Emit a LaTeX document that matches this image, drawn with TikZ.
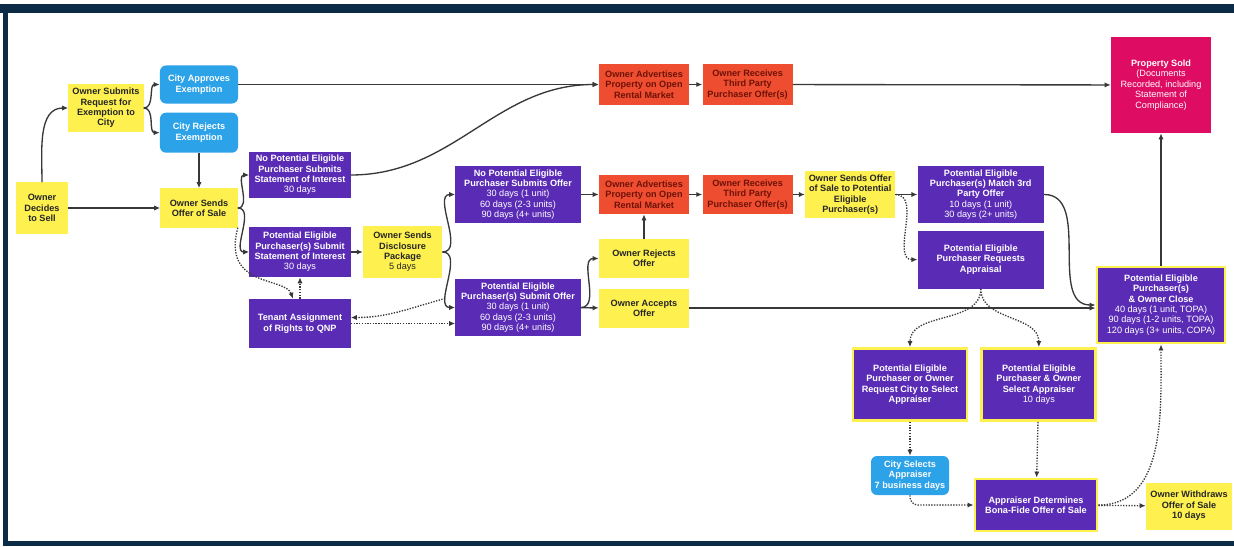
\documentclass[tikz,border=0pt]{standalone}
\usepackage{fontspec}
\setmainfont{Liberation Sans}
\usepackage{xcolor}
\usepackage{tikz}
\usetikzlibrary{arrows.meta, positioning}

\definecolor{frameblue}{HTML}{0B2B47}
\definecolor{ownyellow}{HTML}{FDF04F}
\definecolor{cityblue}{HTML}{2CA2E8}
\definecolor{pepurple}{HTML}{5A2CB6}
\definecolor{advred}{HTML}{EF4D2F}
\definecolor{soldpink}{HTML}{DE0C62}
\definecolor{wire}{HTML}{383838}
\definecolor{ytext}{HTML}{262626}
\definecolor{rtext}{HTML}{6E1208}

\begin{document}
\begin{tikzpicture}[
  x=0.025cm, y=-0.025cm,
  block/.style={minimum width=2.25cm, minimum height=1cm, align=center, inner sep=1pt,
                font=\bfseries\fontsize{6.5}{7.4}\selectfont},
  yblock/.style={block, fill=ownyellow, text=ytext},
  bblock/.style={block, fill=cityblue, text=white, rounded corners=0.15cm},
  pblock/.style={block, fill=pepurple, text=white},
  rblock/.style={block, fill=advred, text=rtext},
  mblock/.style={block, fill=soldpink, text=white},
  hblock/.style={pblock, draw=ownyellow, line width=2pt},
  arr/.style={-{Latex[length=1.5mm, width=1.3mm]}, line width=0.95pt, draw=wire},
  darr/.style={arr, densely dotted}
]
  % page and frame
  \useasboundingbox (0,0) rectangle (1234,546);
  \fill[white] (0,0) rectangle (1234,546);
  \fill[frameblue] (0,4) rectangle (1234,13);
  \fill[frameblue] (3,4) rectangle (8,546);
  \fill[frameblue] (3,541) rectangle (1234,546);

  % Start and exemption
  \node[yblock, minimum width=1.275cm, minimum height=1.275cm] (decide) at (42,208) {Owner\\Decides\\to Sell};
  \node[yblock, minimum width=1.875cm, minimum height=1.175cm] (exempt) at (106,108) {Owner Submits\\Request for\\Exemption to\\City};
  \node[bblock, minimum width=1.95cm, minimum height=0.95cm] (approve) at (199,84.5) {City Approves\\Exemption};
  \node[bblock, minimum width=1.95cm, minimum height=1cm, below=0.215cm of approve] (reject) {City Rejects\\Exemption};
  \node[yblock, minimum width=1.925cm, minimum height=0.975cm] (offer) at (199,208) {Owner Sends\\Offer of Sale};

  % Statement of interest
  \node[pblock, minimum width=2.525cm, minimum height=1.15cm] (nosoi) at (300,175) {No Potential Eligible\\Purchaser Submits\\Statement of Interest\\\textmd{30 days}};
  \node[pblock, minimum width=2.525cm, minimum height=1.25cm] (soi) at (300,252) {Potential Eligible\\Purchaser(s) Submit\\Statement of Interest\\\textmd{30 days}};
  \node[yblock, minimum width=1.975cm, minimum height=1.275cm, right=0.3cm of soi] (disclose) {Owner Sends\\Disclosure\\Package\\\textmd{5 days}};
  \node[pblock, minimum width=2.525cm, minimum height=1.225cm] (tenant) at (300,323.5) {Tenant Assignment\\of Rights to QNP};

  % Offers
  \node[pblock, minimum width=3.125cm, minimum height=1.425cm] (nooffer) at (518,194.5) {No Potential Eligible\\Purchaser Submits Offer\\\textmd{30 days (1 unit)}\\\textmd{60 days (2-3 units)}\\\textmd{90 days (4+ units)}};
  \node[pblock, minimum width=3.125cm, minimum height=1.425cm] (peoffer) at (518,307.5) {Potential Eligible\\Purchaser(s) Submit Offer\\\textmd{30 days (1 unit)}\\\textmd{60 days (2-3 units)}\\\textmd{90 days (4+ units)}};

  % Open market
  \node[rblock] (adv1) at (644,84.5) {Owner Advertises\\Property on Open\\Rental Market};
  \node[rblock, right=0.325cm of adv1] (recv1) {Owner Receives\\Third Party\\Purchaser Offer(s)};
  \node[rblock, minimum height=0.975cm] (adv2) at (644,194.5) {Owner Advertises\\Property on Open\\Rental Market};
  \node[rblock, minimum height=0.975cm, right=0.325cm of adv2] (recv2) {Owner Receives\\Third Party\\Purchaser Offer(s)};
  \node[yblock, minimum height=1.175cm, right=0.3cm of recv2] (tooffer) {Owner Sends Offer\\of Sale to Potential\\Eligible\\Purchaser(s)};
  \node[yblock, minimum height=0.975cm] (rejects) at (644,258.5) {Owner Rejects\\Offer};
  \node[yblock, minimum height=0.975cm, below=0.25cm of rejects] (accepts) {Owner Accepts\\Offer};

  % Match and appraisal
  \node[pblock, minimum width=3.15cm, minimum height=1.425cm, right=0.55cm of tooffer] (match) {Potential Eligible\\Purchaser(s) Match 3rd\\Party Offer\\\textmd{10 days (1 unit)}\\\textmd{30 days (2+ units)}};
  \node[pblock, minimum width=3.15cm, minimum height=1.45cm, below=0.175cm of match] (appraisal) {Potential Eligible\\Purchaser Requests\\Appraisal};
  \node[hblock, minimum width=2.85cm, minimum height=1.8cm] (reqcity) at (910,384.5) {Potential Eligible\\Purchaser or Owner\\Request City to Select\\Appraiser};
  \node[hblock, minimum width=2.85cm, minimum height=1.8cm, right=0.3cm of reqcity] (selappr) {Potential Eligible\\Purchaser \& Owner\\Select Appraiser\\\textmd{10 days}};
  \node[bblock, minimum width=1.95cm, minimum height=0.975cm] (cityappr) at (910,475.5) {City Selects\\Appraiser\\7 business days};
  \node[hblock, minimum width=3.05cm, minimum height=1.3cm] (bonafide) at (1036,505) {Appraiser Determines\\Bona-Fide Offer of Sale};
  \node[yblock, minimum width=2.15cm, minimum height=1.175cm] (withdraw) at (1189,506) {Owner Withdraws\\Offer of Sale\\10 days};

  % Closing
  \node[mblock, minimum width=2.5cm, minimum height=2.4cm] (sold) at (1161,85) {Property Sold\\\textmd{(Documents}\\\textmd{Recorded, including}\\\textmd{Statement of}\\\textmd{Compliance)}};
  \node[hblock, minimum width=3.2cm, minimum height=1.9cm] (close) at (1161,305) {Potential Eligible\\Purchaser(s)\\\& Owner Close\\\textmd{40 days (1 unit, TOPA)}\\\textmd{90 days (1-2 units, TOPA)}\\\textmd{120 days (3+ units, COPA)}};

  % wires
  \draw[arr] (decide.north) to[out=90, in=180] (exempt.west);
  \draw[arr] (decide) -- (offer);
  \draw[arr] (exempt.east) to[out=0, in=180] (approve.west);
  \draw[arr] (exempt.east) to[out=0, in=180] (reject.west);
  \draw[arr] (approve) -- (adv1);
  \draw[arr] (reject) -- (offer);
  \draw[arr] (offer.east) to[out=0, in=180] (nosoi.west);
  \draw[arr] (offer.east) to[out=0, in=180] (soi.west);
  \draw[arr] (nosoi.east) to[out=0, in=180] (adv1.west);
  \draw[arr] (soi) -- (disclose);
  \draw[arr] (disclose.east) to[out=0, in=180] (nooffer.west);
  \draw[arr] (disclose.east) to[out=0, in=180] (peoffer.west);
  \draw[arr] (nooffer) -- (adv2);
  \draw[arr] (peoffer.east) to[out=0, in=180] (rejects.west);
  \draw[arr] (peoffer) -- (accepts);
  \draw[arr] (rejects) -- (adv2);
  \draw[arr] (adv1) -- (recv1);
  \draw[arr] (recv1) -- (sold);
  \draw[arr] (adv2) -- (recv2);
  \draw[arr] (recv2) -- (tooffer);
  \draw[arr] (tooffer) -- (match);
  \draw[arr] (match.east) to[out=0, in=180] (close.west);
  \draw[arr] (accepts.east) -- (accepts.east -| close.west);
  \draw[arr] (close) -- (sold);

  % dotted wires
  \draw[darr] (offer.south east) .. controls +(-16,60) and +(-8,-22) .. ([xshift=-0.175cm]tenant.north);
  \draw[darr] (tenant.north) -- (soi.south);
  \draw[darr] ([shift={(-10,-9)}]peoffer.west) to[out=195, in=0] ([yshift=0.15cm]tenant.east);
  \draw[darr] (tenant.east) -- (tenant.east -| peoffer.west);
  \draw[darr] (tooffer.east) to[out=0, in=180] (appraisal.west);
  \draw[darr] (appraisal.south) to[out=-90, in=90] (reqcity.north);
  \draw[darr] (appraisal.south) to[out=-90, in=90] (selappr.north);
  \draw[darr] (reqcity) -- (cityappr);
  \draw[darr] (selappr) -- (bonafide);
  \draw[darr, rounded corners=0.2cm] (cityappr.south) |- (bonafide.west);
  \draw[darr] (bonafide) -- (withdraw);
  \draw[darr] (bonafide.east) to[out=0, in=-90] (close.south);
\end{tikzpicture}
\end{document}
